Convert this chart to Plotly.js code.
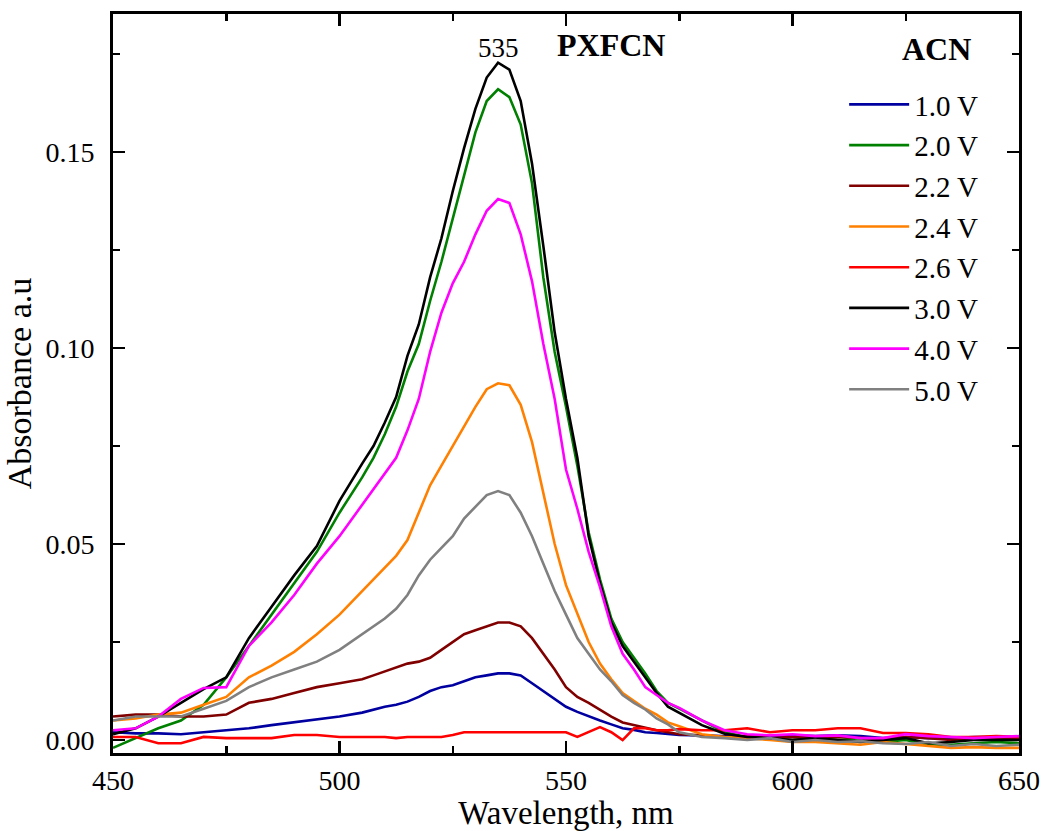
<!DOCTYPE html>
<html>
<head>
<meta charset="utf-8">
<script src="https://cdn.plot.ly/plotly-3.0.1.min.js"></script>
<style>html,body{margin:0;padding:0;background:#fff;}#chart{width:1045px;height:831px;}</style>
</head>
<body>
<div id="chart"></div>
<script>
// Wavelength (nm)
const wavelength = [450,455,460,465,470,475,480,485,490,495,500,505,
  507.5,510,512.5,515,517.5,520,522.5,525,527.5,530,532.5,535,537.5,540,542.5,545,547.5,550,552.5,555,557.5,560,562.5,565,567.5,570,572.5,575,
  580,585,590,595,600,605,610,615,620,625,630,635,640,645,650];

const seriesNames = ["1.0 V","2.0 V","2.2 V","2.4 V","2.6 V","3.0 V","4.0 V","5.0 V"];
const seriesColors = ["#0000A0","#008000","#800000","#FF8000","#FF0000","#000000","#FF00FF","#808080"];

const abs_1_0V = [0.002,0.0017,0.0017,0.0015,0.002,0.0025,0.003,0.0038,0.0045,0.0052,0.006,0.007,
  0.0077,0.0085,0.009,0.0098,0.011,0.0125,0.0135,0.014,0.015,0.016,0.0165,0.017,0.017,0.0165,0.0145,0.0125,0.0105,0.0085,0.0072,0.006,0.005,0.004,0.003,0.0026,0.002,0.0018,0.0015,0.0013,
  0.0012,0.001,0.0008,0.001,0.0012,0.001,0.0012,0.001,0.0005,0.0008,0.0005,0.0005,0.0008,0.0008,0.0008];

const abs_2_0V = [-0.002,0.0005,0.003,0.005,0.009,0.016,0.024,0.032,0.040,0.048,0.058,0.067,
  0.072,0.078,0.085,0.094,0.101,0.112,0.122,0.133,0.144,0.155,0.163,0.166,0.164,0.157,0.142,0.118,0.099,0.085,0.070,0.053,0.041,0.031,0.025,0.021,0.017,0.0125,0.0095,0.008,
  0.005,0.002,0.0008,0.0003,0.0,0.0005,0.0,0.0005,-0.0005,0.0,-0.0012,-0.0012,-0.0008,-0.0005,-0.0008];

const abs_2_2V = [0.006,0.0065,0.0065,0.006,0.006,0.0065,0.0095,0.0105,0.012,0.0135,0.0145,0.0155,
  0.0165,0.0175,0.0185,0.0195,0.020,0.021,0.023,0.025,0.027,0.028,0.029,0.030,0.030,0.029,0.026,0.022,0.018,0.0135,0.011,0.0095,0.0077,0.006,0.0045,0.0038,0.0032,0.0025,0.002,0.0015,
  0.0012,0.0008,0.001,0.0005,0.0008,0.0005,0.0008,0.0005,0.0003,0.0008,0.0005,0.0,0.0005,0.0003,0.0005];

const abs_2_4V = [0.005,0.0055,0.0065,0.007,0.009,0.011,0.016,0.019,0.0225,0.027,0.032,0.038,
  0.041,0.044,0.047,0.051,0.058,0.065,0.070,0.075,0.080,0.085,0.0895,0.091,0.0905,0.0855,0.076,0.063,0.050,0.0395,0.032,0.025,0.0195,0.0155,0.012,0.010,0.008,0.0065,0.0045,0.0035,
  0.0015,0.0008,0.0005,0.0,-0.0005,-0.0005,-0.0008,-0.0012,-0.0005,-0.001,-0.0015,-0.002,-0.0018,-0.002,-0.002];

const abs_2_6V = [0.0008,0.0008,-0.0008,-0.0008,0.0008,0.0005,0.0005,0.0005,0.0013,0.0013,0.0008,0.0008,
  0.0008,0.0008,0.0005,0.0008,0.0008,0.0008,0.0008,0.0013,0.002,0.002,0.002,0.002,0.002,0.002,0.002,0.002,0.002,0.002,0.0008,0.002,0.0033,0.002,0.0,0.003,0.003,0.0025,0.0025,0.0028,
  0.0025,0.0025,0.003,0.002,0.0025,0.0025,0.003,0.003,0.0018,0.0018,0.0015,0.0008,0.0008,0.001,0.0008];

const abs_3_0V = [0.0015,0.003,0.006,0.0095,0.013,0.016,0.026,0.034,0.042,0.0495,0.061,0.0705,
  0.075,0.081,0.0875,0.098,0.106,0.118,0.128,0.140,0.151,0.161,0.169,0.1728,0.171,0.163,0.147,0.126,0.104,0.087,0.072,0.052,0.040,0.030,0.024,0.020,0.016,0.012,0.0085,0.007,
  0.0038,0.0016,0.0008,0.0005,0.0,0.0005,0.0,-0.0005,0.0,0.0005,-0.0008,-0.0005,0.0,0.0,0.0];

const abs_4_0V = [0.0025,0.003,0.006,0.0105,0.0133,0.0135,0.024,0.030,0.037,0.045,0.052,0.060,
  0.064,0.068,0.072,0.079,0.087,0.099,0.109,0.1165,0.122,0.129,0.135,0.138,0.137,0.129,0.117,0.101,0.087,0.069,0.059,0.048,0.039,0.029,0.022,0.018,0.0135,0.0115,0.0095,0.0082,
  0.005,0.0025,0.0015,0.0012,0.0015,0.001,0.0012,0.0005,0.0005,0.0015,0.001,0.0008,0.0005,0.0008,0.001];

const abs_5_0V = [0.005,0.006,0.006,0.006,0.008,0.010,0.0135,0.016,0.018,0.020,0.023,0.027,
  0.029,0.031,0.0335,0.037,0.042,0.046,0.049,0.052,0.0565,0.0595,0.0625,0.0635,0.0625,0.058,0.052,0.045,0.038,0.032,0.026,0.022,0.018,0.015,0.0115,0.0095,0.0078,0.0055,0.004,0.002,
  0.0008,0.0005,0.0,0.0005,-0.0005,0.0,-0.0005,-0.0003,-0.0008,-0.001,-0.0005,-0.0015,-0.001,-0.0015,-0.0012];

const seriesValues = [abs_1_0V,abs_2_0V,abs_2_2V,abs_2_4V,abs_2_6V,abs_3_0V,abs_4_0V,abs_5_0V];

const xTickVals = [450,500,550,600,650];
const xTickText = ["450","500","550","600","650"];
const yTickVals = [0.00,0.05,0.10,0.15];
const yTickText = ["0.00","0.05","0.10","0.15"];

const FONT = "Liberation Serif, Times New Roman, serif";

const traces = seriesNames.map((name, i) => ({
  x: wavelength,
  y: seriesValues[i],
  name: name,
  type: "scatter",
  mode: "lines",
  line: {color: seriesColors[i], width: 2.6}
}));

const axisCommon = {
  showline: true, linecolor: "#000", linewidth: 3,
  mirror: "ticks", ticks: "inside", ticklen: 12, tickwidth: 2.5, tickcolor: "#000",
  showgrid: false, zeroline: false,
  tickfont: {family: FONT, size: 28, color: "#000"}
};

const layout = {
  width: 1045, height: 831,
  margin: {l: 113, r: 26, t: 14, b: 78},
  paper_bgcolor: "#fff", plot_bgcolor: "#fff",
  font: {family: FONT, color: "#000"},
  showlegend: true,
  legend: {
    x: 0.807, y: 0.912, xanchor: "left", yanchor: "top",
    bgcolor: "rgba(0,0,0,0)", borderwidth: 0,
    font: {family: FONT, size: 29, color: "#000"},
    tracegroupgap: 0, itemwidth: 60
  },
  xaxis: Object.assign({}, axisCommon, {
    range: [450, 650],
    tickmode: "array", tickvals: xTickVals, ticktext: xTickText,
    minor: {dtick: 25, tick0: 450, ticks: "inside", ticklen: 7, tickwidth: 2.5, tickcolor: "#000", showgrid: false},
    ticklabelstandoff: 0,
    title: {text: "Wavelength, nm", font: {family: FONT, size: 33, color: "#000"}, standoff: 4}
  }),
  yaxis: Object.assign({}, axisCommon, {
    range: [-0.0033, 0.1852],
    tickmode: "array", tickvals: yTickVals, ticktext: yTickText,
    minor: {dtick: 0.025, tick0: 0, ticks: "inside", ticklen: 7, tickwidth: 2.5, tickcolor: "#000", showgrid: false},
    ticklabelstandoff: 10,
    title: {text: "Absorbance a.u", font: {family: FONT, size: 34, color: "#000"}, standoff: 4}
  }),
  annotations: [
    {x: 535, y: 0.1765, xref: "x", yref: "y", text: "535", showarrow: false,
     font: {family: FONT, size: 27, color: "#000"}},
    {x: 560, y: 0.1772, xref: "x", yref: "y", text: "<b>PXFCN</b>", showarrow: false,
     font: {family: FONT, size: 32, color: "#000"}},
    {x: 0.909, y: 0.953, xref: "paper", yref: "paper", text: "<b>ACN</b>", showarrow: false,
     xanchor: "center", yanchor: "middle",
     font: {family: FONT, size: 32, color: "#000"}}
  ]
};

Plotly.newPlot("chart", traces, layout, {displayModeBar: false, staticPlot: true});
</script>
</body>
</html>
